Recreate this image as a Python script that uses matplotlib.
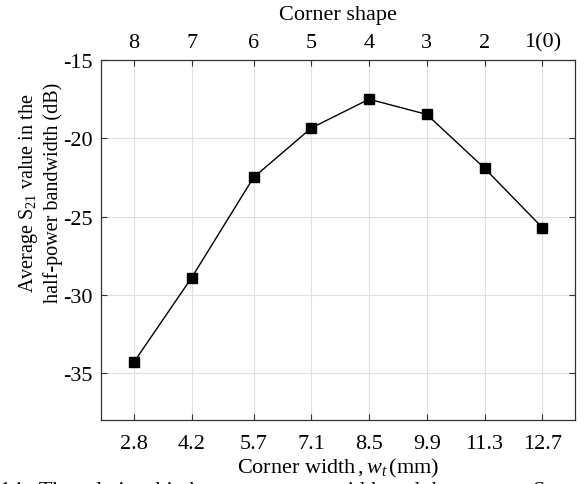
import matplotlib.pyplot as plt

# Corner width (mm) and average S21 in the half-power bandwidth (dB)
width_mm = [2.8, 4.2, 5.7, 7.1, 8.5, 9.9, 11.3, 12.7]
s21_avg = [-34.3, -28.9, -22.5, -19.34, -17.5, -18.47, -21.91, -25.7]
shape_labels = ['8', '7', '6', '5', '4', '3', '2', '1(0)']
y_ticks = [-35, -30, -25, -20, -15]

plt.rcParams['font.family'] = 'Liberation Serif'
plt.rcParams['mathtext.fontset'] = 'custom'
plt.rcParams['mathtext.rm'] = 'Liberation Serif'
plt.rcParams['mathtext.it'] = 'Liberation Serif:italic'
plt.rcParams['font.size'] = 16


def main():
    fig = plt.figure(figsize=(5.87, 4.85), dpi=100)
    ax = fig.add_axes([0.172, 0.132, 0.808, 0.742])

    ax.plot(width_mm, s21_avg, 'k-', linewidth=1.0, marker='s',
            markersize=7.5, markerfacecolor='k', markeredgecolor='k')

    ax.set_xlim(2.0, 13.5)
    ax.set_ylim(-38, -15)
    ax.set_xticks(width_mm)
    ax.set_xticklabels([str(v) for v in width_mm])
    ax.set_yticks(y_ticks)
    ax.set_yticklabels([str(v) for v in y_ticks])
    ax.grid(True, color='#e0e0e0', linewidth=0.8)
    ax.set_axisbelow(True)
    ax.tick_params(direction='in', length=4, width=0.8, color='#333333',
                   right=True, pad=6)
    ax.tick_params(axis='x', top=False, pad=10)
    for s in ax.spines.values():
        s.set_color('#333333')
        s.set_linewidth(0.9)

    ax.set_xlabel('Corner width$\\,,w_t\\,$(mm)', labelpad=2)
    ax.set_ylabel('Average S$_{21}$ value in the\nhalf-power bandwidth (dB)',
                  fontsize=14.5, linespacing=1.2)
    ax.yaxis.set_label_coords(-0.081, 0.633)

    # top axis: corner shape
    ax2 = ax.twiny()
    ax2.set_xlim(ax.get_xlim())
    ax2.set_xticks(width_mm)
    ax2.set_xticklabels(shape_labels)
    ax2.tick_params(direction='in', length=4, width=0.8, color='#333333', pad=6)
    ax2.set_xlabel('Corner shape', labelpad=10)
    for s in ax2.spines.values():
        s.set_visible(False)

    # caption, cut by the bottom edge as in the source
    fig.text(0.0, 0.007, '14.  The relationship between corner width and the average S',
             fontsize=16, va='top', ha='left')

    fig.savefig('out.png', dpi=100)


if __name__ == '__main__':
    main()
